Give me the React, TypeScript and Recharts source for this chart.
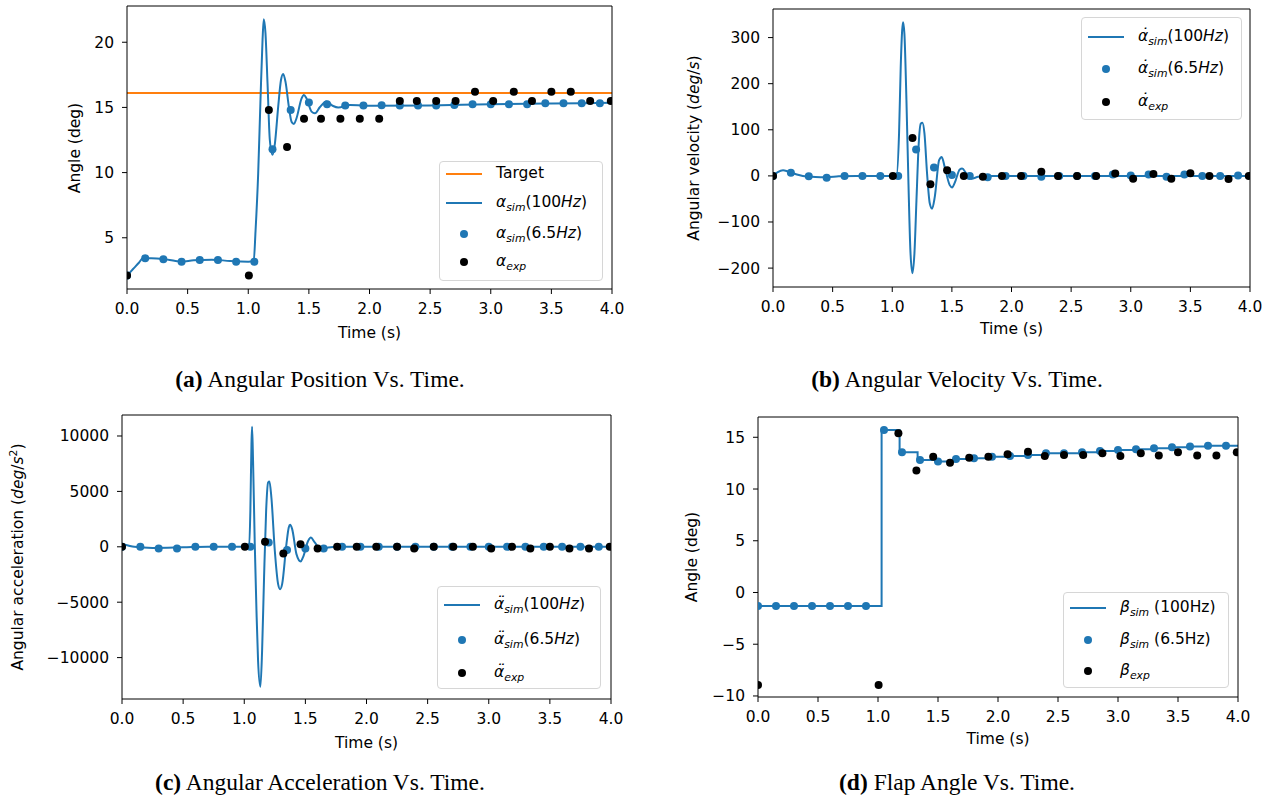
import React from 'react';
import { ComposedChart, Line, Scatter, XAxis, YAxis, ReferenceLine } from 'recharts';

const BLUE = '#1f77b4';
const ORANGE = '#ff7f0e';
const FONT = '"DejaVu Sans", sans-serif';
const SERIF = '"Liberation Serif", "Times New Roman", serif';
const FS = 15.5;

const xTicks = [0, 0.5, 1, 1.5, 2, 2.5, 3, 3.5, 4];

// sample times of the 6.5 Hz simulation and of the experiment
const simT = [0, 0.15, 0.3, 0.45, 0.6, 0.75, 0.9, 1.05, 1.2, 1.35, 1.5, 1.65, 1.8, 1.95, 2.1, 2.25, 2.4, 2.55, 2.7, 2.85, 3.0, 3.15, 3.3, 3.45, 3.6, 3.75, 3.9];
const expT = [0, 1.005, 1.17, 1.32, 1.46, 1.6, 1.76, 1.92, 2.08, 2.25, 2.39, 2.55, 2.71, 2.87, 3.02, 3.19, 3.34, 3.5, 3.66, 3.82, 3.99];

// (a) angular position
const posTargetT = [0, 4];
const posTargetV = [16.1, 16.1];
const posLineT = [0, 0.05, 0.1, 0.13, 0.2, 0.3, 0.4, 0.45, 0.55, 0.7, 0.85, 1.0, 1.045, 1.06, 1.082, 1.101, 1.118, 1.128, 1.142, 1.159, 1.178, 1.2, 1.22, 1.247, 1.27, 1.288, 1.307, 1.335, 1.357, 1.376, 1.398, 1.44, 1.459, 1.48, 1.522, 1.55, 1.59, 1.646, 1.7, 1.742, 1.839, 2.03, 2.5, 3.0, 3.5, 4.0];
const posLineV = [2.1, 2.6, 3.1, 3.42, 3.43, 3.37, 3.22, 3.17, 3.28, 3.32, 3.22, 3.17, 3.2, 5.5, 9.95, 15.6, 20.2, 21.76, 20.7, 16.85, 12.5, 11.36, 12.25, 15.06, 17.1, 17.57, 16.98, 15.06, 13.9, 13.73, 14.17, 15.7, 15.96, 15.7, 14.68, 14.55, 15.01, 15.45, 15.11, 15.0, 15.19, 15.12, 15.15, 15.25, 15.3, 15.35];
const posSimV = [2.1, 3.43, 3.35, 3.17, 3.3, 3.3, 3.17, 3.17, 11.79, 14.81, 15.37, 15.24, 15.14, 15.14, 15.17, 15.14, 15.14, 15.14, 15.19, 15.24, 15.24, 15.24, 15.24, 15.32, 15.32, 15.32, 15.32];
const posExpV = [2.1, 2.1, 14.81, 11.97, 14.14, 14.14, 14.14, 14.14, 14.14, 15.5, 15.5, 15.5, 15.5, 16.21, 15.5, 16.21, 15.5, 16.21, 16.21, 15.5, 15.5];

// (b) angular velocity
const velLineT = [0, 0.04, 0.084, 0.12, 0.154, 0.2, 0.25, 0.3, 0.4, 0.45, 0.55, 0.7, 1.035, 1.057, 1.071, 1.083, 1.091, 1.102, 1.119, 1.136, 1.152, 1.169, 1.186, 1.203, 1.222, 1.239, 1.253, 1.27, 1.292, 1.315, 1.334, 1.357, 1.393, 1.415, 1.44, 1.482, 1.502, 1.524, 1.566, 1.586, 1.622, 1.664, 1.72, 1.818, 2.5, 3.0, 3.5, 4.0];
const velLineV = [0, 8, 12, 10, 7, 3, 0, -1.5, -3, -3, -1, 0, 0, 92, 236, 315, 333, 308, 164, -17, -161, -211, -168, -53, 70, 113, 115, 92, 5, -60, -71, -45, 34, 41, 19, -20, -25, -15, 14, 16, 5, -6, -2, 0, 0, 0, 0, 0];
const velSimV = [0, 7, -1, -4, 0, 0, 0, 0, 57, 18, 2, 0, -3, 0, 0, -2, 0, 0, 0, 3, 1, 3, -2, 3, 0, 0, 1];
const velExpV = [0, 0, 82, -18, 12, 0, -2, 0, 0, 9, 0, 0, 0, 5, -6, 4, -6, 6, 0, -7, 0];

// (c) angular acceleration
const accLineT = [0, 0.05, 0.1, 0.25, 0.5, 0.7, 1.04, 1.05, 1.059, 1.064, 1.072, 1.086, 1.1, 1.113, 1.132, 1.146, 1.162, 1.179, 1.195, 1.206, 1.222, 1.25, 1.277, 1.293, 1.31, 1.345, 1.364, 1.375, 1.392, 1.427, 1.462, 1.48, 1.523, 1.544, 1.577, 1.63, 1.686, 1.768, 2.5, 3.0, 3.5, 4.0];
const accLineV = [250, 120, 0, -100, -50, 0, 0, 3250, 9260, 10830, 7760, 240, -5775, -10287, -12634, -9385, -2767, 3250, 5805, 5896, 4450, -360, -3370, -3820, -3370, 240, 1745, 1985, 1594, -660, -1323, -962, 541, 842, 390, -300, -60, 0, 0, 0, 0, 0];
const accSimV = [0, 0, -150, -150, 0, 0, 0, 0, 390, -300, -150, -150, 0, 0, 0, 0, 0, 0, 0, 0, 0, 0, 0, 0, 0, 0, 0];
const accExpV = [0, 0, 450, -600, 240, -150, 0, 0, 0, 0, -150, 0, 0, 0, -150, 0, -150, 0, -150, -150, 0];

// (d) flap angle
const flapLineT = [0, 1.03, 1.18, 1.33, 1.48, 1.63, 1.78, 1.93, 2.08, 2.23, 2.38, 2.53, 2.68, 2.83, 2.98, 3.13, 3.28, 3.43, 3.58, 3.73, 3.88, 4.0];
const flapLineV = [-1.31, 15.7, 13.55, 12.8, 12.65, 12.9, 12.97, 13.13, 13.2, 13.29, 13.45, 13.45, 13.55, 13.68, 13.77, 13.84, 13.94, 14.03, 14.1, 14.19, 14.19, 14.19];
const flapSimV = [-1.31, -1.31, -1.31, -1.31, -1.31, -1.31, -1.31, 15.7, 13.55, 12.8, 12.65, 12.9, 12.97, 13.13, 13.2, 13.29, 13.45, 13.45, 13.55, 13.68, 13.77, 13.84, 13.94, 14.03, 14.1, 14.19, 14.19];
const flapExpV = [-8.95, -8.95, 15.39, 11.78, 13.13, 12.55, 13.03, 13.13, 13.36, 13.61, 13.19, 13.29, 13.29, 13.45, 13.19, 13.45, 13.23, 13.55, 13.23, 13.23, 13.55];

const zip = (ts: number[], vs: number[]) => ts.map((t, i) => ({ t, v: vs[i] }));
const fmtY = (v: number) => (v < 0 ? '\u2212' + Math.abs(v) : String(v));

type PanelCfg = {
  x: number; y: number; w: number; h: number;
  yDomain: [number, number]; yTicks: number[];
  line: { t: number; v: number }[];
  lineType: 'monotone' | 'stepAfter';
  sim: { t: number; v: number }[];
  exp: { t: number; v: number }[];
  target?: { t: number; v: number }[];
};

const dot = (props: any) => <circle cx={props.cx} cy={props.cy} r={4} fill={props.fill} />;

function Panel({ p }: { p: PanelCfg }) {
  const YW = 90, XH = 40, MT = 10, MR = 24;
  const tickStyle = { fontSize: FS, fill: '#000', fontFamily: FONT };
  return (
    <div style={{ position: 'absolute', left: p.x - YW, top: p.y - MT }}>
      <ComposedChart width={YW + p.w + MR} height={MT + p.h + XH} margin={{ top: MT, right: MR, bottom: 0, left: 0 }}>
        <XAxis xAxisId="b" dataKey="t" type="number" domain={[0, 4]} ticks={xTicks} interval={0} allowDataOverflow
          height={XH} tickFormatter={(v: number) => v.toFixed(1)} tick={tickStyle} tickSize={5} tickMargin={9}
          axisLine={{ stroke: '#000' }} tickLine={{ stroke: '#000' }} />
        <YAxis yAxisId="l" dataKey="v" type="number" domain={p.yDomain} ticks={p.yTicks} interval={0} allowDataOverflow
          width={YW} tickFormatter={fmtY} tick={tickStyle} tickSize={5} tickMargin={8}
          axisLine={{ stroke: '#000' }} tickLine={{ stroke: '#000' }} />
        {p.target && (
          <Line xAxisId="b" yAxisId="l" data={p.target} dataKey="v" type="linear" stroke={ORANGE} strokeWidth={2}
            dot={false} activeDot={false} isAnimationActive={false} />
        )}
        <Line xAxisId="b" yAxisId="l" data={p.line} dataKey="v" type={p.lineType} stroke={BLUE} strokeWidth={2}
          dot={false} activeDot={false} isAnimationActive={false} />
        <Scatter xAxisId="b" yAxisId="l" data={p.sim} dataKey="v" fill={BLUE} shape={dot} isAnimationActive={false} />
        <Scatter xAxisId="b" yAxisId="l" data={p.exp} dataKey="v" fill="#000" shape={dot} isAnimationActive={false} />
        <ReferenceLine xAxisId="b" yAxisId="l" y={p.yDomain[1]} stroke="#000" strokeWidth={1} />
        <ReferenceLine xAxisId="b" yAxisId="l" x={4} stroke="#000" strokeWidth={1} />
      </ComposedChart>
    </div>
  );
}

const panels: PanelCfg[] = [
  { x: 127, y: 6, w: 485, h: 283, yDomain: [1.07, 22.78], yTicks: [5, 10, 15, 20],
    line: zip(posLineT, posLineV), lineType: 'monotone', sim: zip(simT, posSimV), exp: zip(expT, posExpV),
    target: zip(posTargetT, posTargetV) },
  { x: 773, y: 9, w: 477, h: 278, yDomain: [-241, 362], yTicks: [-200, -100, 0, 100, 200, 300],
    line: zip(velLineT, velLineV), lineType: 'monotone', sim: zip(simT, velSimV), exp: zip(expT, velExpV) },
  { x: 122, y: 415, w: 489, h: 284, yDomain: [-13736, 11895], yTicks: [-10000, -5000, 0, 5000, 10000],
    line: zip(accLineT, accLineV), lineType: 'monotone', sim: zip(simT, accSimV), exp: zip(expT, accExpV) },
  { x: 758, y: 417, w: 480, h: 280, yDomain: [-10.1, 16.96], yTicks: [-10, -5, 0, 5, 10, 15],
    line: zip(flapLineT, flapLineV), lineType: 'stepAfter', sim: zip(simT, flapSimV), exp: zip(expT, flapExpV) },
];

// math-like symbol with optional accent and subscript
function Sym({ base, accent, sub, suffix }: { base: string; accent?: string; sub: string; suffix?: React.ReactNode }) {
  return (
    <span>
      <span style={{ position: 'relative', display: 'inline-block', fontStyle: 'italic' }}>
        {base}
        {accent && (
          <span style={{ position: 'absolute', left: '0.12em', right: 0, top: '-0.05em', textAlign: 'center' }}>{accent}</span>
        )}
      </span>
      <span style={{ fontStyle: 'italic', fontSize: '0.7em', position: 'relative', top: '0.35em' }}>{sub}</span>
      {suffix}
    </span>
  );
}

const mathHz = (n: string) => <span>({n}<i>Hz</i>)</span>;
const textHz = (n: string) => <span> ({n}Hz)</span>;

type Row = { y: number; kind: 'line' | 'dot'; color: string; label: React.ReactNode };

function LegendBox({ x, y, w, h, rows }: { x: number; y: number; w: number; h: number; rows: Row[] }) {
  return (
    <div style={{ position: 'absolute', left: x, top: y, width: w, height: h, boxSizing: 'border-box',
      border: '1px solid #d6d6d6', borderRadius: 4, background: 'rgba(255,255,255,0.85)', fontFamily: FONT, fontSize: FS, color: '#000' }}>
      {rows.map((r, i) => (
        <div key={i} style={{ position: 'absolute', left: 0, top: r.y - y, height: 0, width: '100%' }}>
          {r.kind === 'line' ? (
            <div style={{ position: 'absolute', left: 6, top: -1, width: 36, height: 2, background: r.color }} />
          ) : (
            <div style={{ position: 'absolute', left: 20, top: -4, width: 8, height: 8, borderRadius: '50%', background: r.color }} />
          )}
          <div style={{ position: 'absolute', left: 56, top: 0, transform: 'translateY(-50%)', whiteSpace: 'nowrap', lineHeight: 1 }}>
            {r.label}
          </div>
        </div>
      ))}
    </div>
  );
}

function Text({ x, y, rot, size, family, children }: { x: number; y: number; rot?: boolean; size: number; family: string; children: React.ReactNode }) {
  return (
    <div style={{ position: 'absolute', left: x, top: y, transform: `translate(-50%, -50%)${rot ? ' rotate(-90deg)' : ''}`,
      whiteSpace: 'nowrap', fontSize: size, fontFamily: family, lineHeight: 1, color: '#000' }}>
      {children}
    </div>
  );
}

const DOT = '\u02D9';
const DDOT = '\u00A8';

export default function App() {
  return (
    <div style={{ position: 'absolute', left: 0, top: 0, width: 1279, height: 801, background: '#fff', overflow: 'hidden' }}>
      {panels.map((p, i) => <Panel key={i} p={p} />)}

      <LegendBox x={439} y={161} w={164} h={120} rows={[
        { y: 173, kind: 'line', color: ORANGE, label: 'Target' },
        { y: 202, kind: 'line', color: BLUE, label: <Sym base="α" sub="sim" suffix={mathHz('100')} /> },
        { y: 233, kind: 'dot', color: BLUE, label: <Sym base="α" sub="sim" suffix={mathHz('6.5')} /> },
        { y: 261, kind: 'dot', color: '#000', label: <Sym base="α" sub="exp" /> },
      ]} />
      <LegendBox x={1081} y={17} w={161} h={103} rows={[
        { y: 36, kind: 'line', color: BLUE, label: <Sym base="α" accent={DOT} sub="sim" suffix={mathHz('100')} /> },
        { y: 68, kind: 'dot', color: BLUE, label: <Sym base="α" accent={DOT} sub="sim" suffix={mathHz('6.5')} /> },
        { y: 101, kind: 'dot', color: '#000', label: <Sym base="α" accent={DOT} sub="exp" /> },
      ]} />
      <LegendBox x={437} y={586} w={164} h={103} rows={[
        { y: 604, kind: 'line', color: BLUE, label: <Sym base="α" accent={DDOT} sub="sim" suffix={mathHz('100')} /> },
        { y: 639, kind: 'dot', color: BLUE, label: <Sym base="α" accent={DDOT} sub="sim" suffix={mathHz('6.5')} /> },
        { y: 672, kind: 'dot', color: '#000', label: <Sym base="α" accent={DDOT} sub="exp" /> },
      ]} />
      <LegendBox x={1063} y={592} w={166} h={96} rows={[
        { y: 607, kind: 'line', color: BLUE, label: <Sym base="β" sub="sim" suffix={textHz('100')} /> },
        { y: 639, kind: 'dot', color: BLUE, label: <Sym base="β" sub="sim" suffix={textHz('6.5')} /> },
        { y: 670, kind: 'dot', color: '#000', label: <Sym base="β" sub="exp" /> },
      ]} />

      <Text x={76} y={148} rot size={FS} family={FONT}>Angle (deg)</Text>
      <Text x={695} y={148} rot size={FS} family={FONT}>Angular velocity (<i>deg</i>/<i>s</i>)</Text>
      <Text x={18} y={557} rot size={FS} family={FONT}>Angular acceleration (<i>deg</i>/<i>s</i><sup style={{ fontSize: '0.7em' }}>2</sup>)</Text>
      <Text x={693} y={557} rot size={FS} family={FONT}>Angle (deg)</Text>

      <Text x={369.5} y={334} size={FS} family={FONT}>Time (s)</Text>
      <Text x={1011.5} y={330} size={FS} family={FONT}>Time (s)</Text>
      <Text x={366.5} y={744} size={FS} family={FONT}>Time (s)</Text>
      <Text x={998} y={740} size={FS} family={FONT}>Time (s)</Text>

      <Text x={320} y={380} size={23.5} family={SERIF}><b>(a)</b> Angular Position Vs. Time.</Text>
      <Text x={957} y={380} size={23.5} family={SERIF}><b>(b)</b> Angular Velocity Vs. Time.</Text>
      <Text x={320} y={783} size={23.5} family={SERIF}><b>(c)</b> Angular Acceleration Vs. Time.</Text>
      <Text x={957} y={783} size={23.5} family={SERIF}><b>(d)</b> Flap Angle Vs. Time.</Text>
    </div>
  );
}
